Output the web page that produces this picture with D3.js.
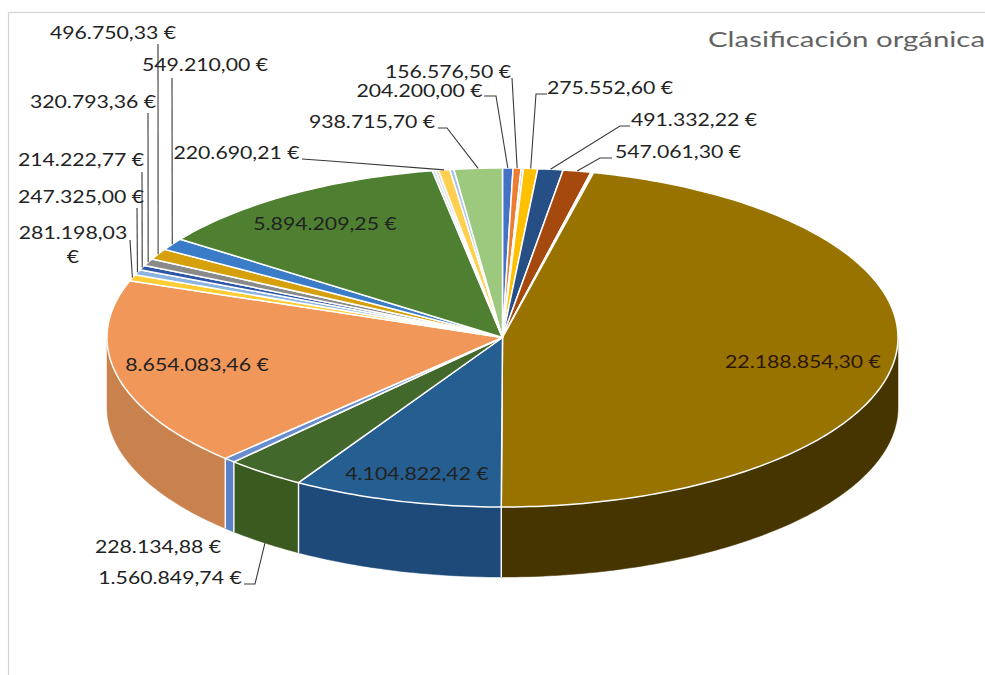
<!DOCTYPE html>
<html lang="es">
<head>
<meta charset="utf-8">
<title>Clasificación orgánica</title>
<script src="https://cdn.jsdelivr.net/npm/d3@7"></script>
<style>
html,body{margin:0;padding:0;background:#fff;overflow:hidden}
svg{display:block}
text{font-family:"Lato","Open Sans",sans-serif}
</style>
</head>
<body>
<svg id="chart" width="985" height="675"></svg>
<script>
// Clockwise from 12 o'clock. Thin unlabelled slices are estimated from the picture.
const sliceValues = [204200.00,156576.50,45000,275552.60,491332.22,547061.30,25000,25000,22188854.30,4104822.42,1560849.74,228134.88,8654083.46,281198.03,247325.00,214222.77,320793.36,496750.33,549210.00,5894209.25,60000,60000,220690.21,80000,938715.70];
const sliceLabels = ["204.200,00 €","156.576,50 €","","275.552,60 €","491.332,22 €","547.061,30 €","","","22.188.854,30 €","4.104.822,42 €","1.560.849,74 €","228.134,88 €","8.654.083,46 €","281.198,03 €","247.325,00 €","214.222,77 €","320.793,36 €","496.750,33 €","549.210,00 €","5.894.209,25 €","","","220.690,21 €","","938.715,70 €"];
const topColors = ["#4472c4","#ed7d31","#b9c4dc","#ffc000","#264f85","#a5490f","#e8dcc8","#8f8f8f","#997300","#255e91","#43682b","#698ed0","#f1975a","#ffcd33","#8cb4e0","#2f56a6","#8a8a8a","#d6a00c","#3a7cc8","#4f8032","#d5dde8","#d9d9d9","#ffd050","#a9c3ea","#9dc97f"];
const wallColors = ["#3a62a8","#c96a2a","#a0a0a0","#d8a300","#203f6a","#8a3d0c","#c8bca8","#777777","#473500","#1d4a78","#3a5a20","#5a80c8","#c9824e","#d8ae2b","#789abf","#28498c","#757575","#b6880a","#316aaa","#436e2b","#b5bcc6","#b8b8b8","#d8b144","#90a6c8","#86ab6c"];
const chartTitle = "Clasificación orgánica";

// Layout only (not data): label centres, and the bend of each leader line.
const labelPlacement = {
  "204.200,00 €":{x:419.5,y:91,leader:[[484,96],[496,96]]},
  "156.576,50 €":{x:448,y:72,leader:[[512,78]]},
  "275.552,60 €":{x:610,y:88,leader:[[547,94],[536,94]]},
  "491.332,22 €":{x:694,y:120,leader:[[630,126],[620,126]]},
  "547.061,30 €":{x:678,y:152,leader:[[612,158],[600,158]]},
  "22.188.854,30 €":{x:803,y:362},
  "4.104.822,42 €":{x:417,y:474},
  "1.560.849,74 €":{x:170,y:578,leader:[[244,584],[255,584]],onWall:true},
  "228.134,88 €":{x:158,y:547},
  "8.654.083,46 €":{x:197,y:365},
  "281.198,03 €":{x:73,y:233,wrap:true,leader:[[130,240]]},
  "247.325,00 €":{x:81,y:197,leader:[[137,208]]},
  "214.222,77 €":{x:81,y:160,leader:[[142,172]]},
  "320.793,36 €":{x:93,y:102,leader:[[148,113]]},
  "496.750,33 €":{x:113,y:33,leader:[[158,44]]},
  "549.210,00 €":{x:205,y:65,leader:[[172,78]]},
  "5.894.209,25 €":{x:325,y:224},
  "220.690,21 €":{x:236.5,y:153,leader:[[302,159],[330,161]]},
  "938.715,70 €":{x:372,y:122,leader:[[438,128],[447,128]]}
};

const svg = d3.select("#chart");
const cx = 502.5, cy = 337.5, rx = 395.5, ry = 169.5, depth = 70;
const labelStretch = 1.25, titleWidth = 277;
const sx = d3.scaleLinear().domain([-1,1]).range([cx-rx,cx+rx]);
const sy = d3.scaleLinear().domain([-1,1]).range([cy-ry,cy+ry]);
const px = a => sx(Math.sin(a));
const py = a => sy(-Math.cos(a));

const arcs = d3.pie().sort(null).value(d=>d)(sliceValues);
const line = d3.line();
const samples = (a0,a1) => {
  const n = Math.max(2,Math.ceil((a1-a0)/(Math.PI/180)));
  return d3.range(n+1).map(i=>a0+(a1-a0)*i/n);
};
const stretch = (sel,f) => {
  const w = sel.node().getComputedTextLength();
  sel.attr("textLength",w*f).attr("lengthAdjust","spacingAndGlyphs");
};

// frame
svg.append("rect").attr("x",8.5).attr("y",12.5).attr("width",1000).attr("height",700)
  .attr("fill","#fff").attr("stroke","#d4d4d4").attr("stroke-width",1.2);

// title
const title = svg.append("text").attr("x",708).attr("y",47).attr("font-size",21).attr("fill","#636363").text(chartTitle);
title.attr("textLength",titleWidth).attr("lengthAdjust","spacingAndGlyphs");

// front walls
const front0 = Math.PI/2, front1 = 3*Math.PI/2;
arcs.forEach((d,i)=>{
  const a0 = Math.max(d.startAngle,front0), a1 = Math.min(d.endAngle,front1);
  if(a1<=a0) return;
  const s = samples(a0,a1);
  const pts = s.map(a=>[px(a),py(a)]).concat(s.slice().reverse().map(a=>[px(a),py(a)+depth]));
  svg.append("path").attr("d",line(pts)+"Z").attr("fill",wallColors[i]).attr("stroke",wallColors[i]).attr("stroke-width",0.5);
});
// wall separators
arcs.forEach(d=>{
  const a = d.startAngle;
  if(a>=front0 && a<=front1){
    svg.append("line").attr("x1",px(a)).attr("x2",px(a)).attr("y1",py(a)).attr("y2",py(a)+depth)
      .attr("stroke","#fff").attr("stroke-width",1.4);
  }
});

// top faces
arcs.forEach((d,i)=>{
  const pts = [[sx(0),sy(0)]].concat(samples(d.startAngle,d.endAngle).map(a=>[px(a),py(a)]));
  svg.append("path").attr("d",line(pts)+"Z").attr("fill",topColors[i])
    .attr("stroke","#fff").attr("stroke-width",1.5).attr("stroke-linejoin","round");
});

// leaders
arcs.forEach((d,i)=>{
  const p = labelPlacement[sliceLabels[i]];
  if(!p || !p.leader) return;
  const mid = (d.startAngle+d.endAngle)/2;
  const end = [px(mid),py(mid)+(p.onWall?depth:0)];
  svg.append("path").attr("d",line(p.leader.concat([end]))).attr("fill","none")
    .attr("stroke","#3a3a3a").attr("stroke-width",1.1);
});

// labels
arcs.forEach((d,i)=>{
  const lab = sliceLabels[i];
  const p = labelPlacement[lab];
  if(!p) return;
  const t = svg.append("text").attr("text-anchor","middle").attr("font-size",17)
    .attr("fill",i===8?"#2b1608":"#222").attr("x",p.x).attr("y",p.y+6);
  if(p.wrap){
    const parts = lab.split(" ");
    t.text(parts[0]);
    stretch(t,labelStretch);
    const e = svg.append("text").attr("text-anchor","middle").attr("font-size",17).attr("fill","#222")
      .attr("x",p.x).attr("y",p.y+30).text(parts[1]);
    stretch(e,labelStretch);
  } else { t.text(lab); stretch(t,labelStretch); }
});
</script>
</body>
</html>
